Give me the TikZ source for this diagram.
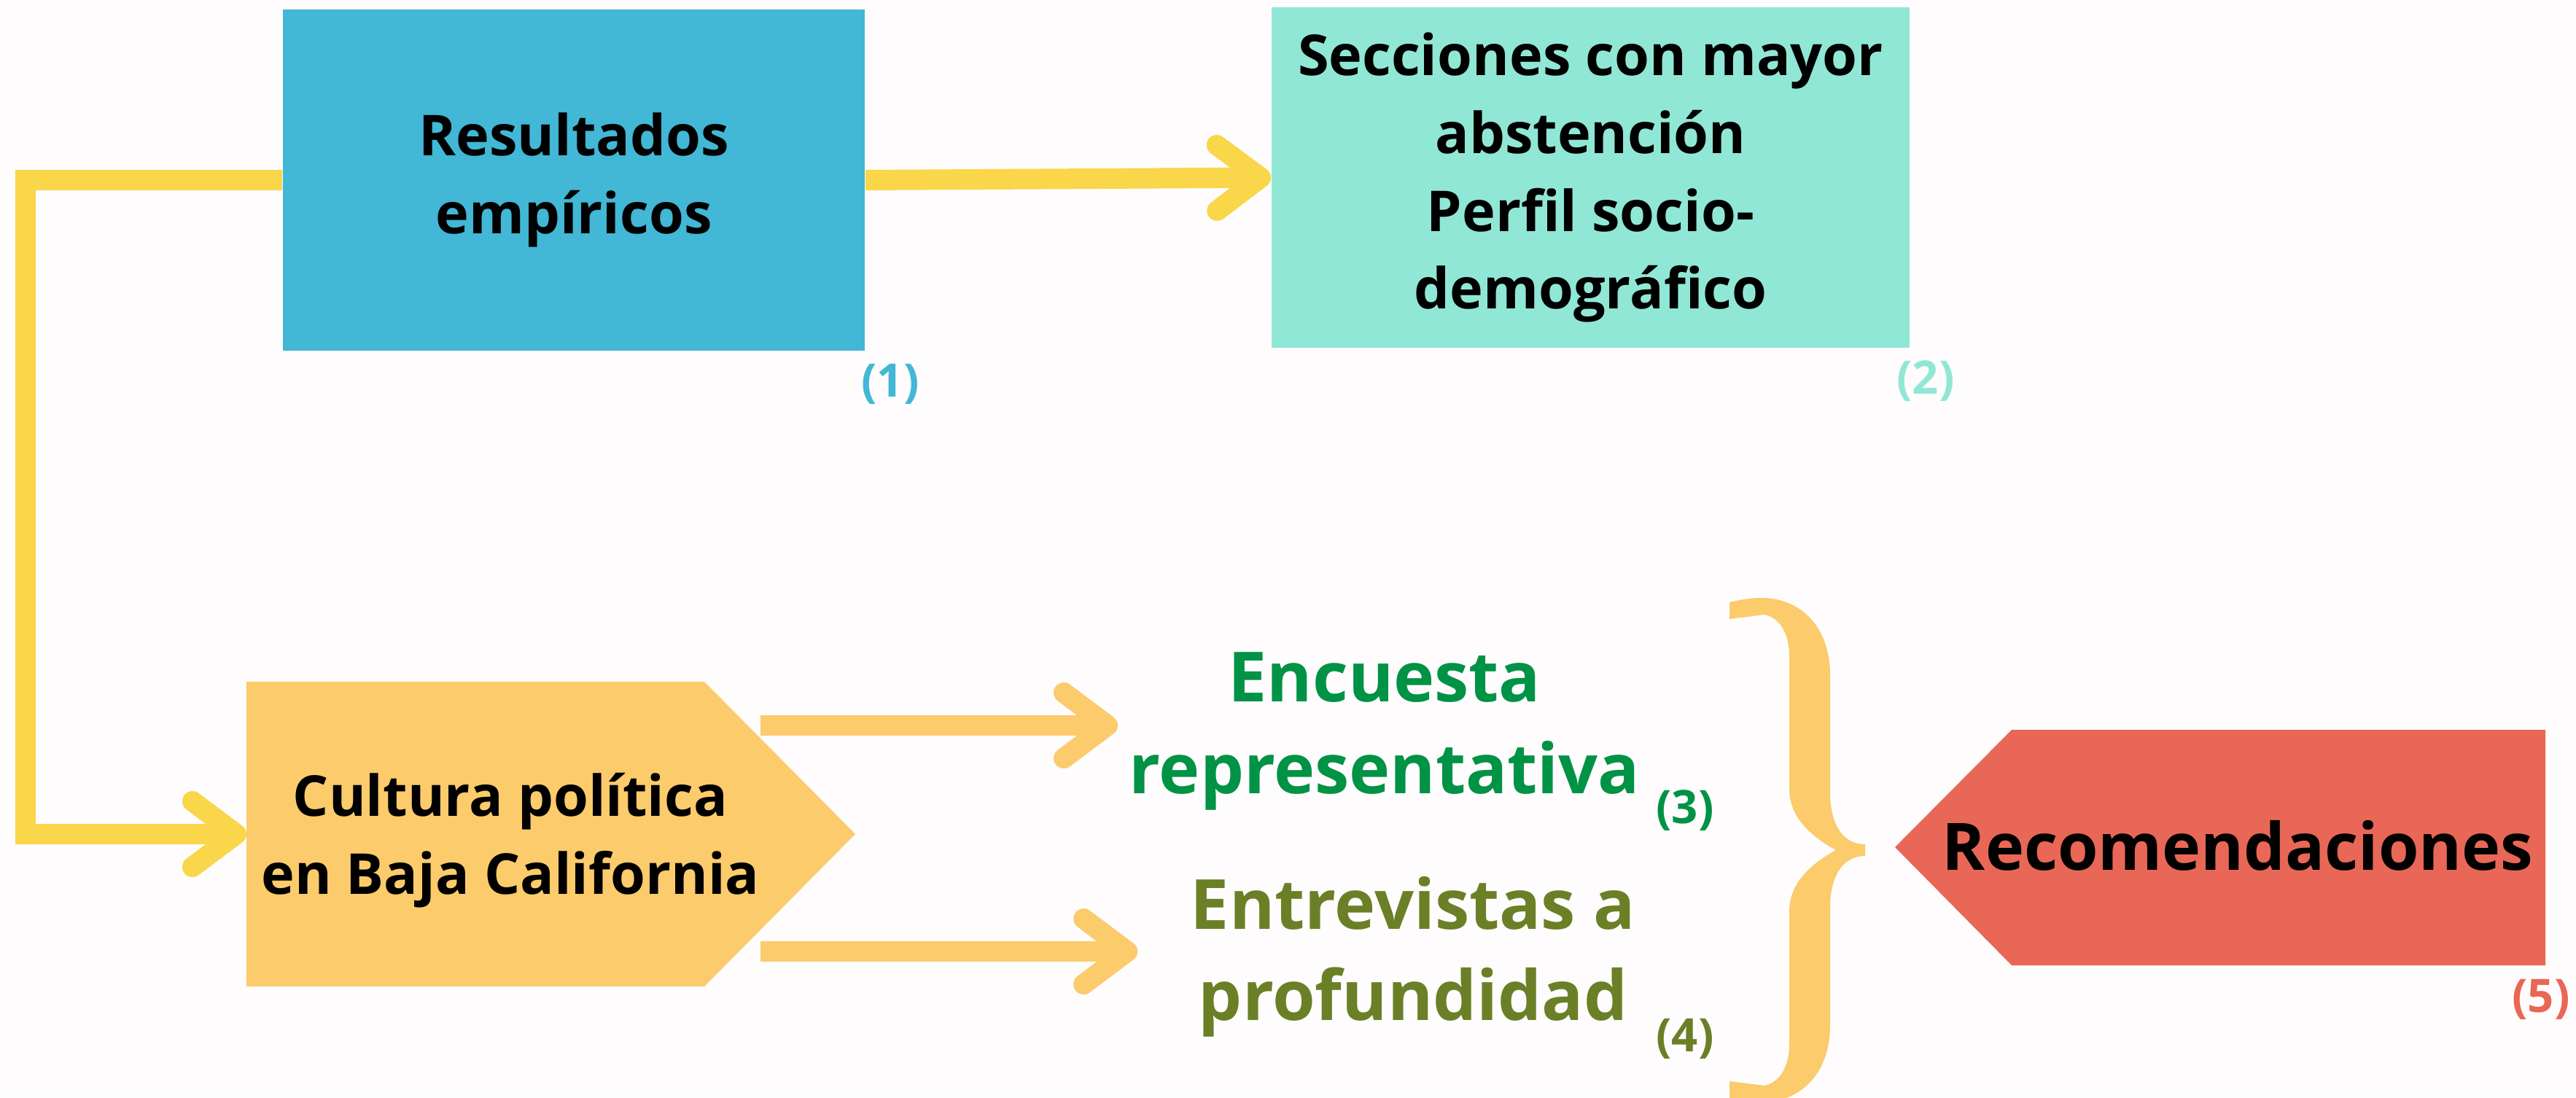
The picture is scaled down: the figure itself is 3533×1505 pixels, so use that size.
\documentclass[tikz,border=0pt]{standalone}
\usepackage{fontspec}
\setmainfont{Open Sans}
\usetikzlibrary{arrows.meta,calc}

\definecolor{fondo}{RGB}{254,252,252}
\definecolor{azulres}{RGB}{66,183,214}
\definecolor{verdesec}{RGB}{145,231,213}
\definecolor{amarillo}{RGB}{249,214,74}
\definecolor{naranja}{RGB}{251,203,108}
\definecolor{verdeenc}{RGB}{0,146,69}
\definecolor{oliva}{RGB}{107,127,39}
\definecolor{rojorec}{RGB}{233,103,86}

\begin{document}
\begin{tikzpicture}[x=0.01cm,y=-0.01cm,
	caja/.style={inner sep=0pt, align=center, font=\fontsize{22}{30.4}\selectfont\bfseries},
	metodo/.style={align=center, font=\fontsize{27}{35.6}\selectfont\bfseries},
	numero/.style={inner sep=0pt, font=\fontsize{18}{20}\selectfont\bfseries},
	flecha/.style={line width=0.28cm, -{Straight Barb[length=6mm,width=9mm,round]}}
	]
	% Background
	\useasboundingbox (0,0) rectangle (3533,1505);
	\fill[fondo] (0,0) rectangle (3533,1505);
	
	% Top boxes
	\node[caja, fill=azulres, minimum width=7.98cm, minimum height=4.67cm] (res) at (787,247) {Resultados\\empíricos};
	\node[caja, fill=verdesec, minimum width=8.75cm, minimum height=4.67cm] (sec) at (2181.5,243.5) {Secciones con mayor\\abstención\\Perfil socio-\\demográfico};
	\node[numero, text=azulres] (n1) at (1221,527) {(1)};
	\node[numero, text=verdesec] (n2) at (2641,523) {(2)};
	
	% Cultura politica
	\fill[naranja] (338,935) -- (966,935) -- (1173,1144) -- (966,1353) -- (338,1353) -- cycle;
	\coordinate (cultw) at (338,1144);
	\coordinate (c1) at (1043,995);
	\coordinate (c2) at (1043,1305);
	\node[caja] (cult) at (700,1153) {Cultura política\\en Baja California};
	
	% Methods
	\node[metodo, text=verdeenc, inner xsep=0.15cm] (enc) at (1899,1003) {Encuesta\\representativa};
	\node[metodo, text=oliva, inner xsep=0.72cm] (ent) at (1938,1312) {Entrevistas a\\profundidad};
	\node[numero, text=verdeenc] (n3) at (2311,1112) {(3)};
	\node[numero, text=oliva] (n4) at (2311,1425) {(4)};
	
	% Recomendaciones
	\fill[rojorec] (2599,1162) -- (2759,1001) -- (3491,1001) -- (3491,1324) -- (2759,1324) -- cycle;
	\node[inner sep=0pt, font=\fontsize{25.5}{30}\selectfont\bfseries] (rec) at (3069,1160) {Recomendaciones};
	\node[numero, text=rojorec] (n5) at (3485,1371) {(5)};
	
	% Arrows
	\draw[flecha, amarillo] (res.east) -- (sec.west);
	\draw[flecha, amarillo] (res.west) -- ++(-352,0) |- (cultw);
	\draw[flecha, naranja] (c1) -- (c1 -| enc.west);
	\draw[flecha, naranja] (c2) -- (c2 -| ent.west);
	
	% Brace
	\fill[naranja] (2518,1166) .. controls (2470,1140) and (2454,1110) .. (2454,1083) -- (2454,900) .. controls (2454,870) and (2442,848) .. (2420,843) -- (2372,849) -- (2372,826) .. controls (2395,821) and (2405,820) .. (2415,820) .. controls (2470,820) and (2510,860) .. (2510,926) -- (2510,1093) .. controls (2512,1135) and (2530,1158) .. (2558,1158) -- (2558,1167) -- cycle;
	\begin{scope}[shift={(0,2332)}, yscale=-1]
		\fill[naranja] (2518,1166) .. controls (2470,1140) and (2454,1110) .. (2454,1083) -- (2454,900) .. controls (2454,870) and (2442,848) .. (2420,843) -- (2372,849) -- (2372,826) .. controls (2395,821) and (2405,820) .. (2415,820) .. controls (2470,820) and (2510,860) .. (2510,926) -- (2510,1093) .. controls (2512,1135) and (2530,1158) .. (2558,1158) -- (2558,1167) -- cycle;
	\end{scope}
	
\end{tikzpicture}
\end{document}
